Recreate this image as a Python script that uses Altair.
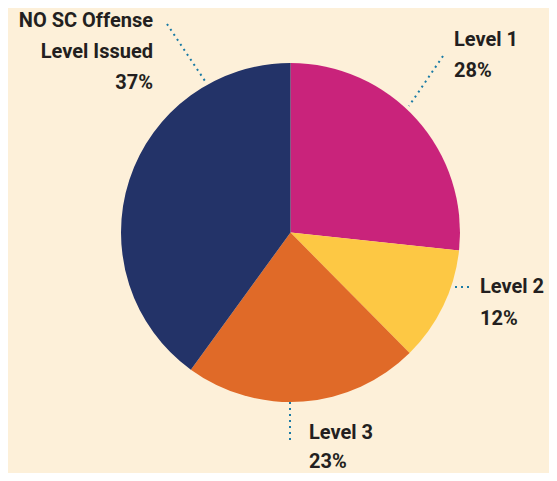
import altair as alt
import pandas as pd

# Data
categories = ["Level 1", "Level 2", "Level 3", "NO SC Offense Level Issued"]
slice_shares = [26.7, 10.9, 22.4, 40.0]          # share of the drawn pie
name_lines = [["Level 1"], ["Level 2"], ["Level 3"], ["NO SC Offense", "Level Issued"]]
pct_labels = ["28%", "12%", "23%", "37%"]

# Styling
colors = ["#C9237B", "#FDC844", "#E06A28", "#233368"]
bg = "#FDF0D9"
text_color = "#231F20"
leader_color = "#1B7BA5"

W, H = 541, 465
cx, cy, R = 282.5, 224.5, 169.5

pie_df = pd.DataFrame({"category": categories, "share": slice_shares,
                       "order": list(range(len(categories)))})

pie = alt.Chart(pie_df).mark_arc(radius=R).encode(
    theta=alt.Theta("share:Q", stack=True),
    order=alt.Order("order:Q"),
    color=alt.Color("category:N", scale=alt.Scale(domain=categories, range=colors), legend=None),
    x=alt.value(cx),
    y=alt.value(cy),
)

# Annotation layout (label anchor, alignment, line height, leader line)
label_pos = [
    (446, 38, "left", 31),
    (472, 285, "left", 32),
    (301, 431, "left", 29),
    (145, 19, "right", 31),
]
leaders = [
    (435, 48, 401, 98),
    (447, 279, 463, 279),
    (282, 394, 282, 432),
    (159, 16, 197, 73),
]

one = pd.DataFrame({"k": [0]})
layers = [pie]
for i in range(len(categories)):
    x, y, al, lh = label_pos[i]
    lines = name_lines[i] + [pct_labels[i]]
    layers.append(
        alt.Chart(one).mark_text(
            text=lines, align=al, baseline="alphabetic", lineHeight=lh,
            font="Roboto", fontWeight="bold", fontSize=20, color=text_color,
        ).encode(x=alt.value(x), y=alt.value(y))
    )
    x1, y1, x2, y2 = leaders[i]
    layers.append(
        alt.Chart(one).mark_rule(
            color=leader_color, strokeWidth=2, strokeDash=[2, 4],
        ).encode(x=alt.value(x1), y=alt.value(y1), x2=alt.value(x2), y2=alt.value(y2))
    )

chart = alt.layer(*layers).properties(
    width=W, height=H,
    autosize=alt.AutoSizeParams(type="fit", contains="padding"),
    padding=0,
    background=bg,
).configure_view(stroke=None)

chart.save("out.html", embed_options={"renderer": "svg", "actions": False})
